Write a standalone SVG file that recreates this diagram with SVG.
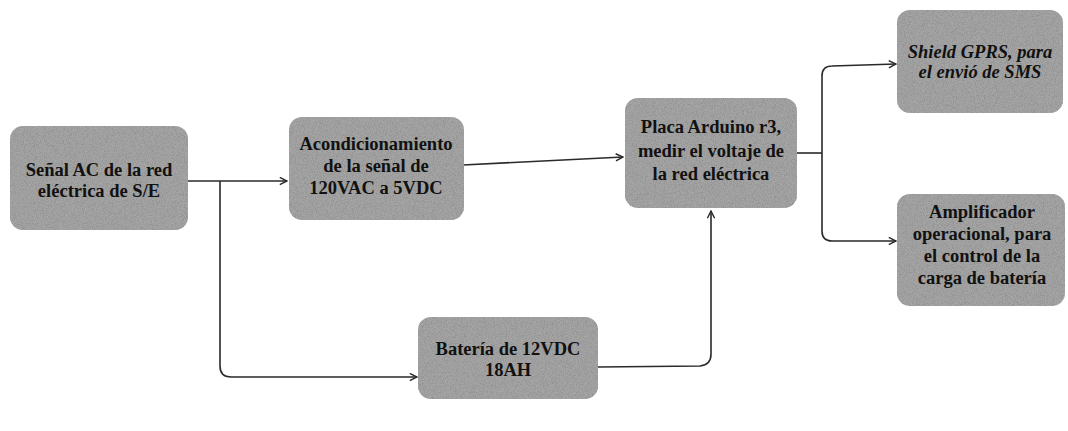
<svg xmlns="http://www.w3.org/2000/svg" width="1068" height="431" viewBox="0 0 1068 431">
  <style>
    .box { fill: #a4a4a4; filter: url(#grain); }
    .lbl { font-family: "Liberation Serif", "DejaVu Serif", serif; font-weight: bold; font-size: 18.5px; fill: #111; text-anchor: middle; }
    .it { font-style: italic; }
    .wire { fill: none; stroke: #2a2a2a; stroke-width: 1.6; }
    .arrow { marker-end: url(#head); }
  </style>
  <defs>
    <!-- speckled grey fill for the blocks -->
    <filter id="grain" x="0" y="0" width="100%" height="100%">
      <feTurbulence type="fractalNoise" baseFrequency="1.1" numOctaves="2" seed="4" result="n"/>
      <feColorMatrix in="n" type="matrix" values="0 0 0 0 0.3  0 0 0 0 0.3  0 0 0 0 0.3  0 0 0 -4 2.3" result="dots"/>
      <feComposite in="dots" in2="SourceGraphic" operator="in" result="speck"/>
      <feMerge><feMergeNode in="SourceGraphic"/><feMergeNode in="speck"/></feMerge>
    </filter>
    <marker id="head" viewBox="0 0 10 10" refX="9" refY="5" markerWidth="9" markerHeight="9" markerUnits="userSpaceOnUse" orient="auto">
      <path d="M1,1 L9,5 L1,9" fill="none" stroke="#2a2a2a" stroke-width="1.6"/>
    </marker>
  </defs>

  <!-- connectors -->
  <g id="connectors">
    <path class="wire arrow" d="M188,181 L287,181"/>
    <path class="wire arrow" d="M220,181 L220,366 Q220,377 231,377 L417,377"/>
    <path class="wire arrow" d="M463,165 L623,157"/>
    <path class="wire arrow" d="M598,367 L700,366 Q711,365 711,354 L711,211"/>
    <path class="wire" d="M797,153 L822,153"/>
    <path class="wire arrow" d="M822,153 L822,76 Q822,66 832,66 L896,64"/>
    <path class="wire arrow" d="M822,153 L822,231 Q822,241 832,241 L896,241"/>
  </g>

  <g id="n-senal">
    <rect class="box" x="10" y="126" width="178" height="104" rx="13"/>
    <text class="lbl" x="99" y="176">Señal AC de la red</text>
    <text class="lbl" x="99" y="197">eléctrica de S/E</text>
  </g>

  <g id="n-acond">
    <rect class="box" x="289" y="117" width="175" height="103" rx="13"/>
    <text class="lbl" x="376" y="150">Acondicionamiento</text>
    <text class="lbl" x="376" y="172">de la señal de</text>
    <text class="lbl" x="376" y="194">120VAC a 5VDC</text>
  </g>

  <g id="n-arduino">
    <rect class="box" x="625" y="98" width="172" height="110" rx="13"/>
    <text class="lbl" x="711" y="133">Placa Arduino r3,</text>
    <text class="lbl" x="711" y="157">medir el voltaje de</text>
    <text class="lbl" x="711" y="180">la red eléctrica</text>
  </g>

  <g id="n-shield">
    <rect class="box" x="897" y="10" width="166" height="103" rx="13"/>
    <text class="lbl it" x="980" y="58">Shield GPRS, para</text>
    <text class="lbl it" x="980" y="78">el envió de SMS</text>
  </g>

  <g id="n-amp">
    <rect class="box" x="897" y="194" width="168" height="112" rx="13"/>
    <text class="lbl" x="982" y="218">Amplificador</text>
    <text class="lbl" x="982" y="240">operacional, para</text>
    <text class="lbl" x="982" y="262">el control de la</text>
    <text class="lbl" x="982" y="284">carga de batería</text>
  </g>

  <g id="n-bateria">
    <rect class="box" x="418" y="317" width="180" height="82" rx="13"/>
    <text class="lbl" x="508" y="355">Batería de 12VDC</text>
    <text class="lbl" x="508" y="376">18AH</text>
  </g>
</svg>
